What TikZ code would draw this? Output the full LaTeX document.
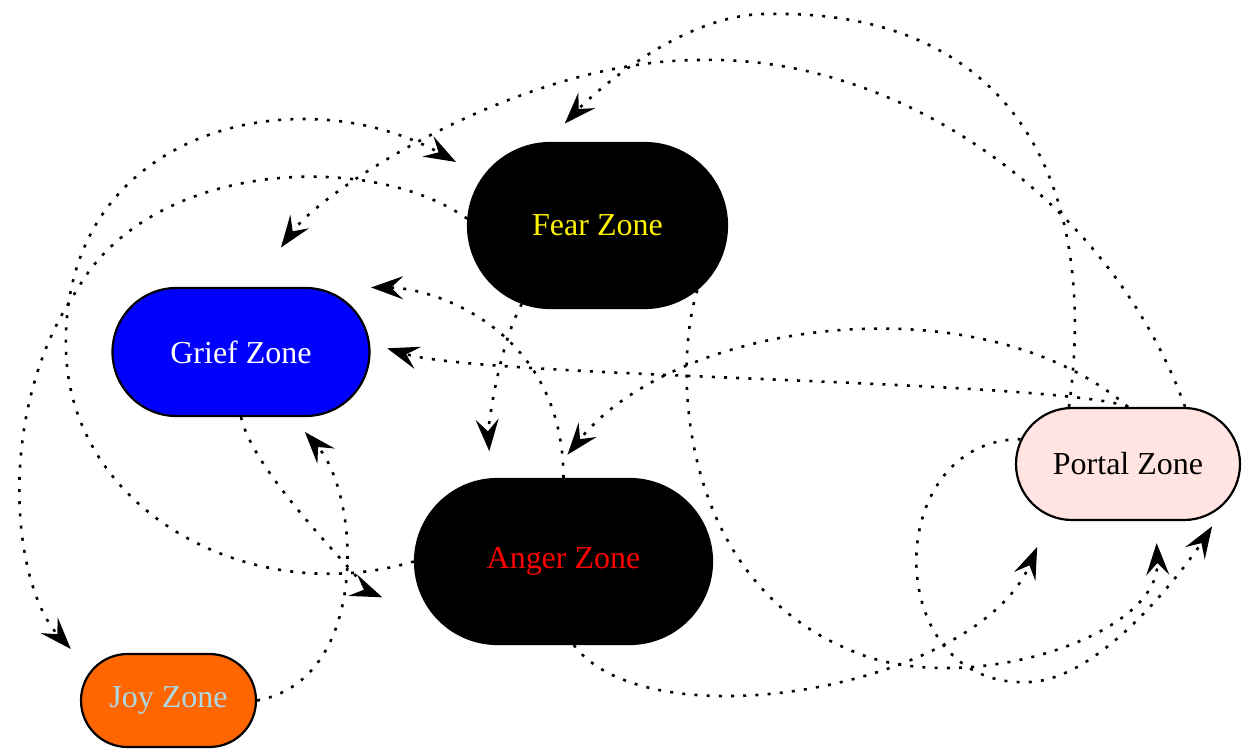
\documentclass[tikz,border=0pt]{standalone}
\usepackage{fontspec}
\setmainfont{Liberation Serif}
\usetikzlibrary{arrows.meta,shapes.misc}
\definecolor{griefblue}{HTML}{0000FF}
\definecolor{joyorange}{HTML}{FF6600}
\definecolor{joytext}{HTML}{ADD8E6}
\definecolor{portalpink}{HTML}{FFE4E1}
\tikzset{
  zone/.style={rounded rectangle, draw=black, line width=1.1pt, inner sep=0pt,
    font=\fontsize{16}{19}\selectfont},
  link/.style={line width=1.3pt, dash pattern=on 1.5pt off 4.6pt,
    -{Stealth[length=16pt,width=11.5pt,inset=6pt]}}
}
\begin{document}
\begin{tikzpicture}[x=0.5pt, y=-0.5pt]
      \useasboundingbox (0,0) rectangle (1242,749);
      \node[zone, fill=black, text=yellow, minimum width=129.5pt, minimum height=82.5pt] (fear) at (597.5,225.5) {Fear Zone};
      \node[zone, fill=griefblue, text=white, minimum width=128.5pt, minimum height=64pt] (grief) at (241,352) {Grief Zone};
      \node[zone, fill=black, text=red, minimum width=148.5pt, minimum height=82.5pt] (anger) at (563.5,561.5) {Anger Zone};
      \node[zone, fill=portalpink, text=black, minimum width=112pt, minimum height=56pt] (portal) at (1128,464) {Portal Zone};
      \node[zone, fill=joyorange, text=joytext, minimum width=87.5pt, minimum height=46.5pt] (joy) at (168.5,700.5) {Joy Zone};
      \draw[link, shorten >=13.5pt] (fear.226) .. controls (497,350) and (488,432) .. (anger.131);
      \draw[link, shorten >=11pt] (fear.-33) .. controls (672,370) and (680,580) .. (850,650) .. controls (960,700) and (1160,638) .. (portal.-64);
      \draw[link, shorten >=14.6pt] (fear.177) .. controls (370,150) and (150,160) .. (77,290) .. controls (-5,410) and (11.5,584) .. (joy.159);
      \draw[link, shorten >=32.5pt] (anger.north) .. controls (563,330) and (435,288) .. (grief.45);
      \draw[link, shorten >=15.2pt] (anger.west) .. controls (250,610) and (70,510) .. (66,350) .. controls (60,130) and (297,74) .. (fear.157);
      \draw[link, shorten >=16.4pt] (anger.-83) .. controls (650,745) and (978,687.5) .. (portal.214);
      \draw[link, shorten >=30pt] (grief.south) .. controls (255,480) and (383,597.6) .. (anger.205);
      \draw[link, shorten >=9.9pt] (joy.east) .. controls (370,680) and (361,496) .. (grief.-52);
      \draw[link, shorten >=9pt] (portal.north) .. controls (1060,380) and (483.4,378.1) .. (grief.4);
      \draw[link, shorten >=24.3pt] (portal.45) .. controls (1110,200) and (900,55) .. (700,60) .. controls (520,60) and (322.5,190) .. (grief.80);
      \draw[link, shorten >=14.9pt] (portal.north) .. controls (980,280) and (677,319) .. (anger.100);
      \draw[link, shorten >=12.7pt] (portal.136) .. controls (1100,180) and (1010,10) .. (770,14) .. controls (680,12) and (588,99) .. (fear.121);
      \draw[link, shorten >=18.1pt] (portal.167) .. controls (880,440) and (880,690) .. (1030,682) .. controls (1110,678) and (1199.4,546.3) .. (portal.-17);
    \end{tikzpicture}
\end{document}
